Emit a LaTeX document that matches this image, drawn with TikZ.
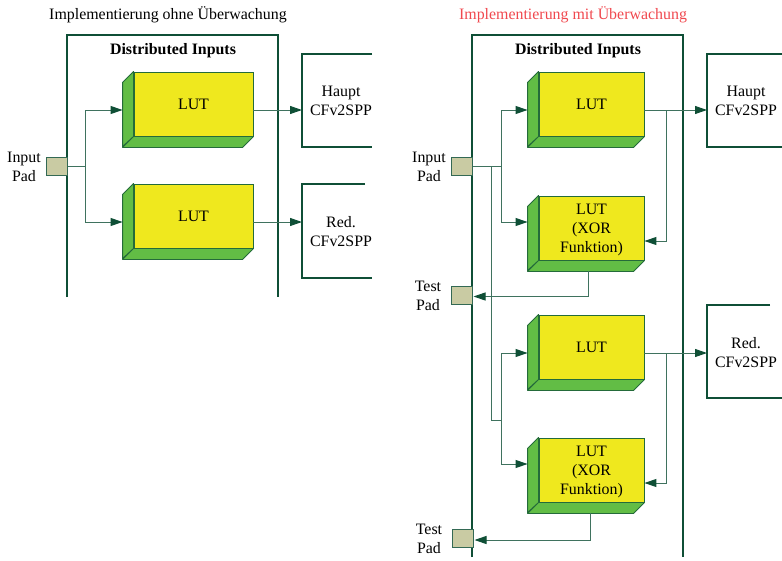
\documentclass[tikz,border=0pt]{standalone}
\usepackage{fontspec}
\setmainfont{Liberation Serif}
\usetikzlibrary{arrows.meta}
\definecolor{rahmen}{HTML}{0F4F36}
\definecolor{seite}{HTML}{62BD45}
\definecolor{front}{HTML}{EFE81E}
\definecolor{padfill}{HTML}{C9CBA3}
\definecolor{titelrot}{HTML}{F0484E}
\tikzset{
	frameline/.style={draw=rahmen,line width=2pt},
	wire/.style={draw=rahmen!80!white,line width=1pt},
	arrowwire/.style={wire,-{Triangle[length=12pt,width=8pt,fill=rahmen,color=rahmen]}},
	lutwide/.style={draw=rahmen!75!seite,fill=front,line width=0.9pt,minimum width=119pt,minimum height=64pt,inner sep=0pt,align=center},
	lutnarrow/.style={lutwide,minimum width=105pt},
	padbox/.style={draw=rahmen!85!white,fill=padfill,line width=1pt,minimum width=21pt,minimum height=18pt,inner sep=0pt},
	label/.style={inner sep=0pt,align=center,font=\fontsize{15.9pt}{19pt}\selectfont},
}
\begin{document}
\begin{tikzpicture}[x=1pt,y=-1pt]
\useasboundingbox (0,0) rectangle (782,560);
\node[label] (titleA) at (168,15) {Implementierung ohne Überwachung};
\node[label,text=titelrot] (titleB) at (573,15) {Implementierung mit Überwachung};
\node[label,font=\fontsize{15.9pt}{19pt}\selectfont\bfseries] (distA) at (173,50.5) {Distributed Inputs};
\node[label,font=\fontsize{15.9pt}{19pt}\selectfont\bfseries] (distB) at (578,50.5) {Distributed Inputs};
% die Rahmen
\foreach \Xa/\Xb/\Yb in {67/278/297,472/683/557}
{
	\draw[frameline] (\Xa,\Yb) -- (\Xa,35) -- (\Xb,35) -- (\Xb,\Yb);
}
\foreach \Xa/\Ya/\Yb/\Xo/\Xu in {302/54/147/372/372,302/184/278/365/372,707/54/147/782/782,707/305/398/770/782}
{
	\draw[frameline] (\Xo,\Ya) -- (\Xa,\Ya) -- (\Xa,\Yb) -- (\Xu,\Yb);
}
% LUTs
\foreach \Name/\Xc/\Yc/\Kind/\Texto in
{lutA/193.5/104/lutwide/LUT,lutB/193.5/216/lutwide/LUT,
 lutC/591.5/104/lutnarrow/LUT,xorA/591.5/228/lutnarrow/{\rule{0pt}{15pt}LUT\\(XOR\\Funktion)},
 lutD/591.5/347/lutnarrow/LUT,xorB/591.5/470/lutnarrow/{\rule{0pt}{15pt}LUT\\(XOR\\Funktion)}}
{
	\node[\Kind,label] (\Name) at (\Xc,\Yc) {\Texto};
	\filldraw[draw=rahmen!75!seite,fill=seite,line width=0.9pt,line join=round]
		(\Name.north west) -- ++(-11,11) -- ++(0,64) -- (\Name.south west) -- cycle
		(\Name.south west) -- ++(-11,11) -- ([xshift=-11pt,yshift=-11pt]\Name.south east) -- (\Name.south east) -- cycle;
}
% Pads
\foreach \Name/\Xc/\Yc/\Xl/\Yl/\Texto in
{padA/56.5/166/24/166.5/Input\\Pad,padB/461.5/166/429/166.5/Input\\Pad,
 padC/461.5/295/428/295.5/Test\\Pad,padD/462.5/538.5/429/538.5/Test\\Pad}
{
	\node[padbox] (\Name) at (\Xc,\Yc) {};
	\node[label] (\Name text) at (\Xl,\Yl) {\Texto};
}
% Ausgaenge
\node[label] (hauptA) at (341,100.5) {Haupt\\CFv2SPP};
\node[label] (redA) at (341,231.5) {Red.\\CFv2SPP};
\node[label] (hauptB) at (746,100.5) {Haupt\\CFv2SPP};
\node[label] (redB) at (746,352.5) {Red.\\CFv2SPP};
\coordinate (inHauptA) at (302,110);
\coordinate (inRedA) at (302,222);
\coordinate (inHauptB) at (707,110);
\coordinate (inRedB) at (707,353);
\coordinate (forkA) at (85,166);
\coordinate (forkB) at (501,166);
\coordinate (forkC) at (491,166);
\coordinate (forkD) at (501,420);
\coordinate (tapA) at (666,110);
\coordinate (tapB) at (666,353);
% links
\draw[wire] (padA.east) -- (forkA);
\foreach \Name/\Ys in {lutA/-6pt,lutB/-6pt}
{
	\draw[arrowwire] (forkA) |- ([xshift=-11pt,yshift=\Ys]\Name.west);
}
\draw[arrowwire] ([yshift=-6pt]lutA.east) -- (inHauptA);
\draw[arrowwire] ([yshift=-6pt]lutB.east) -- (inRedA);
% rechts
\draw[wire] (padB.east) -- (forkB);
\draw[wire] (forkC) |- (forkD);
\foreach \Fork/\Name/\Ys in {forkB/lutC/-6pt,forkB/xorA/6pt,forkD/lutD/-6pt,forkD/xorB/6pt}
{
	\draw[arrowwire] (\Fork) |- ([xshift=-11pt,yshift=\Ys]\Name.west);
}
\draw[arrowwire] ([yshift=-6pt]lutC.east) -- (inHauptB);
\draw[arrowwire] ([yshift=-6pt]lutD.east) -- (inRedB);
\draw[arrowwire] (tapA) |- ([yshift=-13pt]xorA.east);
\draw[arrowwire] (tapB) |- ([yshift=-13pt]xorB.east);
\draw[arrowwire] ([xshift=-3.5pt,yshift=-11pt]xorA.south) |- ([xshift=1pt,yshift=-1.5pt]padC.east);
\draw[arrowwire] ([xshift=-1.5pt,yshift=-11pt]xorB.south) |- ([xshift=1pt,yshift=-1.5pt]padD.east);
\end{tikzpicture}
\end{document}
